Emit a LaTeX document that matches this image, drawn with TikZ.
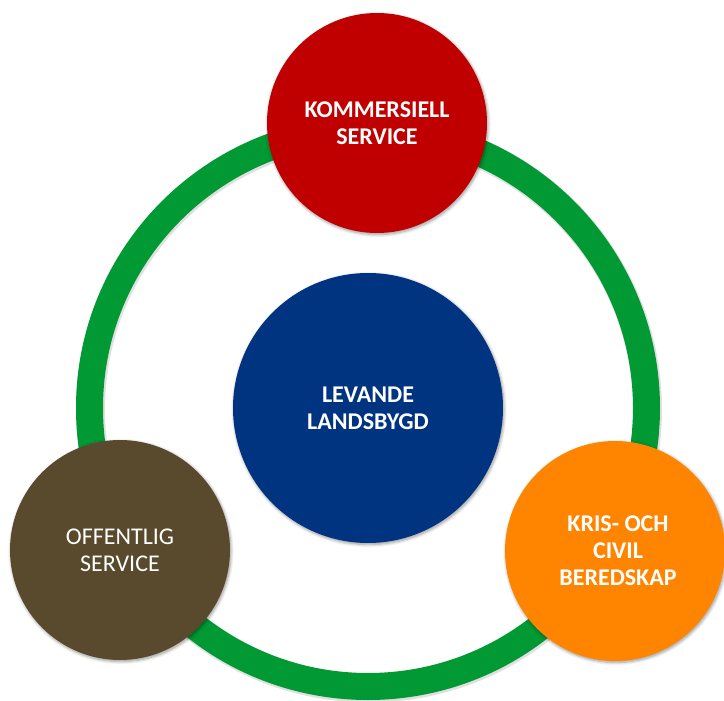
\documentclass[tikz,border=0pt]{standalone}
\usepackage{fontspec}
\setmainfont{Carlito}
\usetikzlibrary{shadows.blur}
\definecolor{ringgreen}{RGB}{0,153,51}
\definecolor{kred}{RGB}{192,0,0}
\definecolor{lblue}{RGB}{0,51,128}
\definecolor{obrown}{RGB}{89,74,46}
\definecolor{korange}{RGB}{255,133,0}
\tikzset{
  disc/.style={circle, inner sep=0pt, text=white, align=center,
    font=\fontsize{24}{27}\selectfont\bfseries,
    blur shadow={shadow xshift=1pt, shadow yshift=-1.5pt, shadow blur radius=3pt, shadow blur steps=6, shadow opacity=40}},
  smalldisc/.style={disc, minimum size=220pt},
  bigdisc/.style={disc, minimum size=270pt},
  ringline/.style={ringgreen, line width=27pt},
  ringshadow/.style={black, opacity=0.12, line width=29pt}
}
\begin{document}
\begin{tikzpicture}[x=1pt,y=-1pt]
  \useasboundingbox (0,0) rectangle (724,701);
  \coordinate (c) at (368,408);
  % ring
  \draw[ringshadow] ([shift={(1,1.5)}]c) circle[radius=278.5];
  \draw[ringline] (c) circle[radius=278.5];
  % discs
  \node[bigdisc, fill=lblue] (center) at (c) {LEVANDE\\LANDSBYGD};
  \node[smalldisc, fill=kred] (komm) at (377,123) {KOMMERSIELL\\SERVICE};
  \node[smalldisc, fill=obrown, font=\fontsize{24}{27}\selectfont\mdseries] (off) at (120,550) {OFFENTLIG\\SERVICE};
  \node[smalldisc, fill=korange] (kris) at (615,551) {\hspace*{6pt}KRIS- OCH\\\hspace*{6pt}CIVIL\\\hspace*{6pt}BEREDSKAP};
\end{tikzpicture}
\end{document}
